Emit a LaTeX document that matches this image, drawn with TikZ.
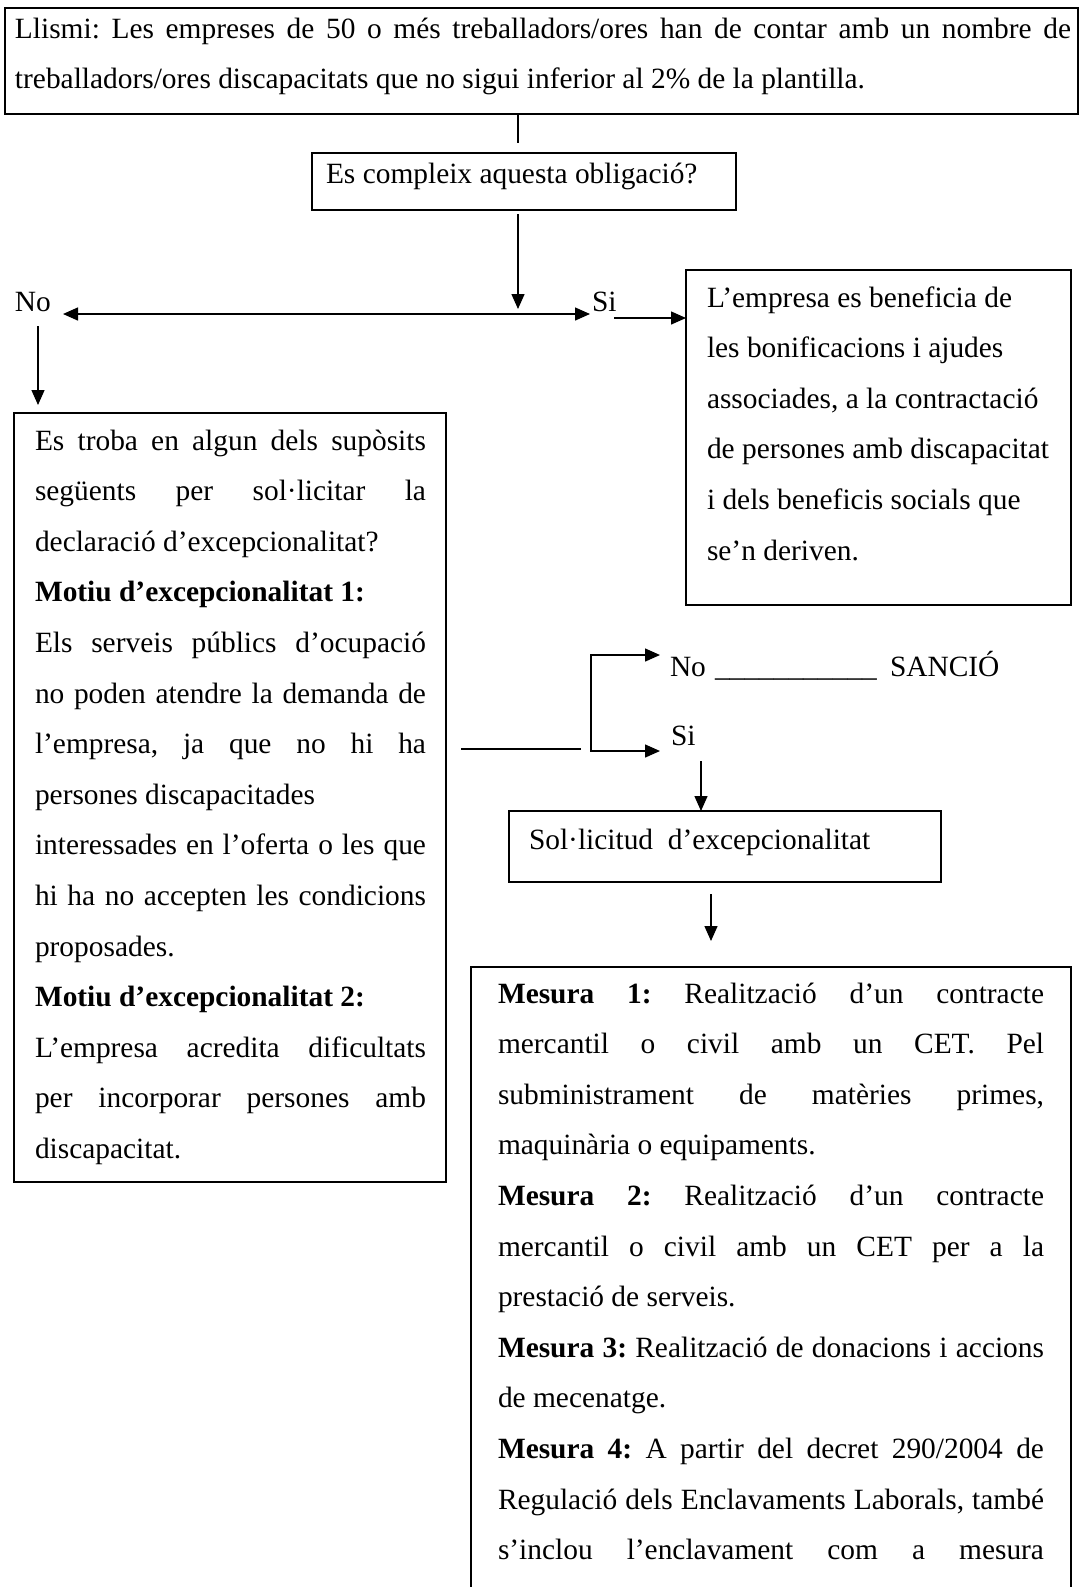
\documentclass[tikz,border=0pt]{standalone}
\usepackage{fontspec}
\setmainfont{Liberation Serif}
\usetikzlibrary{arrows.meta}
\newcommand{\jl}[2]{\makebox[#1][s]{#2}}
\frenchspacing
\begin{document}
\begin{tikzpicture}[x=0.5pt,y=-0.5pt,
  box/.style={draw, line width=0.85pt, inner sep=0pt, outer sep=0pt},
  txt/.style={anchor=base west, inner sep=0pt, outer sep=0pt, font=\fontsize{14.7pt}{25pt}\selectfont},
  conn/.style={line width=0.7pt},
  arr/.style={conn, -{Triangle[length=7.5pt,width=6.5pt]}},
  arrb/.style={conn, {Triangle[length=7.5pt,width=6.5pt]}-{Triangle[length=7.5pt,width=6.5pt]}}]
\useasboundingbox (0,0) rectangle (1081,1587);
% boxes
\node[box, minimum width=536.5pt, minimum height=53pt] (top) at (541.5,61) {};
\node[box, minimum width=212pt, minimum height=28.5pt] (q) at (524,181.5) {};
\node[box, minimum width=192.5pt, minimum height=167.5pt] (R) at (878.5,437.5) {};
\node[box, minimum width=216pt, minimum height=384.5pt] (L) at (230,797.5) {};
\node[box, minimum width=216pt, minimum height=35.5pt] (S) at (725,846.5) {};
\node[box, minimum width=300pt, minimum height=316.5pt] (M) at (771,1283.5) {};
% top text
\node[txt] (t1) at (15,38) {\jl{528pt}{Llismi: Les empreses de 50 o més treballadors/ores han de contar amb un nombre de}};
\node[txt] (t2) at (15,88) {treballadors/ores discapacitats que no sigui inferior al 2\% de la plantilla.};
\node[txt] (qt) at (326,183) {Es compleix aquesta obligació?};
\node[txt] (no1) at (15,311) {No};
\node[txt] (si1) at (592,311) {Si};
% right box text
\node[txt] (r1) at (707,307) {L’empresa es beneficia de};
\node[txt] (r2) at (707,357.6) {les bonificacions i ajudes};
\node[txt] (r3) at (707,408.2) {associades, a la contractació};
\node[txt] (r4) at (707,458.8) {de persones amb discapacitat};
\node[txt] (r5) at (707,509.4) {i dels beneficis socials que};
\node[txt] (r6) at (707,560) {se’n deriven.};
% left box text
\node[txt] (l1) at (35,450) {\jl{195.5pt}{Es troba en algun dels supòsits}};
\node[txt] (l2) at (35,500.6) {\jl{195.5pt}{següents per sol·licitar la}};
\node[txt] (l3) at (35,551.2) {declaració d’excepcionalitat?};
\node[txt] (l4) at (35,601.8) {\textbf{Motiu d’excepcionalitat 1:}};
\node[txt] (l5) at (35,652.4) {\jl{195.5pt}{Els serveis públics d’ocupació}};
\node[txt] (l6) at (35,703) {\jl{195.5pt}{no poden atendre la demanda de}};
\node[txt] (l7) at (35,753.6) {\jl{195.5pt}{l’empresa, ja que no hi ha}};
\node[txt] (l8) at (35,804.2) {persones discapacitades};
\node[txt] (l9) at (35,854.8) {\jl{195.5pt}{interessades en l’oferta o les que}};
\node[txt] (l10) at (35,905.4) {\jl{195.5pt}{hi ha no accepten les condicions}};
\node[txt] (l11) at (35,956) {proposades.};
\node[txt] (l12) at (35,1006.6) {\textbf{Motiu d’excepcionalitat 2:}};
\node[txt] (l13) at (35,1057.2) {\jl{195.5pt}{L’empresa acredita dificultats}};
\node[txt] (l14) at (35,1107.8) {\jl{195.5pt}{per incorporar persones amb}};
\node[txt] (l15) at (35,1158.4) {discapacitat.};
% middle labels
\node[txt] (nob) at (670,676) {No};
\node[txt] (und) at (715,676) {\_\_\_\_\_\_\_\_\_\_\_};
\node[txt] (sanc) at (890,676) {SANCIÓ};
\node[txt] (sib) at (671,745) {Si};
\node[txt] (st) at (529,849) {Sol·licitud\ \ d’excepcionalitat};
% bottom box text
\node[txt] (m1) at (498,1003) {\jl{273pt}{\textbf{Mesura 1:} Realització d’un contracte}};
\node[txt] (m2) at (498,1053.6) {\jl{273pt}{mercantil o civil amb un CET. Pel}};
\node[txt] (m3) at (498,1104.2) {\jl{273pt}{subministrament de matèries primes,}};
\node[txt] (m4) at (498,1154.8) {maquinària o equipaments.};
\node[txt] (m5) at (498,1205.4) {\jl{273pt}{\textbf{Mesura 2:} Realització d’un contracte}};
\node[txt] (m6) at (498,1256) {\jl{273pt}{mercantil o civil amb un CET per a la}};
\node[txt] (m7) at (498,1306.6) {prestació de serveis.};
\node[txt] (m8) at (498,1357.2) {\jl{273pt}{\textbf{Mesura 3:} Realització de donacions i accions}};
\node[txt] (m9) at (498,1407.8) {de mecenatge.};
\node[txt] (m10) at (498,1458.4) {\jl{273pt}{\textbf{Mesura 4:} A partir del decret 290/2004 de}};
\node[txt] (m11) at (498,1509) {\jl{273pt}{Regulació dels Enclavaments Laborals, també}};
\node[txt] (m12) at (498,1559.6) {\jl{273pt}{s’inclou l’enclavament com a mesura}};
% connectors
\coordinate (c1) at (518,143);
\draw[conn] (top.south -| c1) -- (c1);
\coordinate (c2) at (518,309);
\draw[arr] ([yshift=-2pt]q.south -| c2) -- (c2);
\coordinate (dl) at (63,314);
\coordinate (dr) at (590,314);
\draw[arrb] (dl) -- (dr);
\coordinate (sR) at (614,318);
\draw[arr] (sR) -- (sR -| R.west);
\coordinate (nd1) at (38,326);
\coordinate (nd2) at (38,405);
\draw[arr] (nd1) -- (nd2);
\coordinate (ml1) at (461,749);
\coordinate (ml2) at (581,749);
\draw[conn] (ml1) -- (ml2);
\coordinate (bt) at (660,655);
\coordinate (bb) at (660,751);
\draw[arrb] (bt) -| (591,703) |- (bb);
\coordinate (sd) at (701,761);
\draw[arr] (sd) -- (sd |- S.north);
\coordinate (md1) at (711,894);
\coordinate (md2) at (711,941);
\draw[arr] (md1) -- (md2);
\end{tikzpicture}
\end{document}
